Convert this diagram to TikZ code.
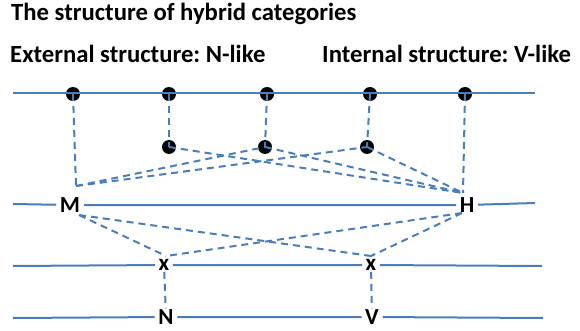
\documentclass[tikz,border=0pt]{standalone}
\usepackage{fontspec}
\setmainfont{Carlito}
\frenchspacing
\definecolor{lineblue}{HTML}{4A7EBB}
\begin{document}
\begin{tikzpicture}[x=1pt,y=-1pt,
  guide/.style={lineblue, line width=2pt},
  link/.style={lineblue, line width=2pt, dash pattern=on 7pt off 5pt},
  dot/.style={circle, fill=black, minimum size=14pt, inner sep=0pt},
  lab/.style={font=\bfseries\fontsize{23}{23}\selectfont, inner xsep=3.5pt, inner ysep=1pt},
  head/.style={font=\bfseries\fontsize{24.7}{24.7}\selectfont, anchor=base west, inner sep=0pt}]
\useasboundingbox (0,0) rectangle (580,331);

% headings
\node[head] (title) at (11,21) {The structure of hybrid categories};
\node[head] (ext) at (10,63) {External structure: N-like};
\node[head] (int) at (322,63) {Internal structure: V-like};

% dots on the top tier and the middle tier
\node[dot] (t1) at (73,94) {};
\node[dot] (t2) at (169,94) {};
\node[dot] (t3) at (267,94) {};
\node[dot] (t4) at (370,94) {};
\node[dot] (t5) at (465,94) {};
\node[dot] (m1) at (169,147) {};
\node[dot] (m2) at (265,147) {};
\node[dot] (m3) at (367,147) {};

% category labels
\node[lab] (M) at (70,205) {M};
\node[lab] (H) at (467,205) {H};
\node[lab] (xl) at (164,265) {x};
\node[lab] (xr) at (371,265) {x};
\node[lab] (N) at (166,317) {N};
\node[lab] (V) at (372,317) {V};

% tier ends and junction points
\coordinate (a1) at (13,93);  \coordinate (b1) at (535,93);
\coordinate (a2) at (13,204); \coordinate (b2) at (535,203);
\coordinate (a3) at (13,266); \coordinate (b3) at (542,266);
\coordinate (a4) at (13,318); \coordinate (b4) at (543,318);
\coordinate (Mj) at (76,186);
\coordinate (Hj) at (463,193);
\coordinate (Mb) at (79,215);
\coordinate (Hb) at (462,213);
\coordinate (xlt) at (166,256);
\coordinate (xrt) at (371,256);

% tiers
\draw[guide] (a1) -- (b1);
\draw[guide] (a2) -- (M) -- (H) -- (b2);
\draw[guide] (a3) -- (xl) -- (xr) -- (b3);
\draw[guide] (a4) -- (N) -- (V) -- (b4);

% association lines
\draw[link] (t1.center) -- (Mj);
\draw[link] (t5.center) -- (Hj);
\draw[link] (t2.center) -- (m1.center);
\draw[link] (t3.center) -- (m2.center);
\draw[link] (t4.center) -- (m3.center);
\draw[link] (Mj) -- (m2.center);
\draw[link] (Mj) -- (m3.center);
\draw[link] (m1.center) -- (Hj);
\draw[link] (m2.center) -- (Hj);
\draw[link] (m3.center) -- (Hj);
\draw[link] (Mb) -- (xlt);
\draw[link] (Mb) -- (xrt);
\draw[link] (Hb) -- (xlt);
\draw[link] (Hb) -- (xrt);
\draw[link] (xl) -- (N);
\draw[link] (xr) -- (V);
\end{tikzpicture}
\end{document}
